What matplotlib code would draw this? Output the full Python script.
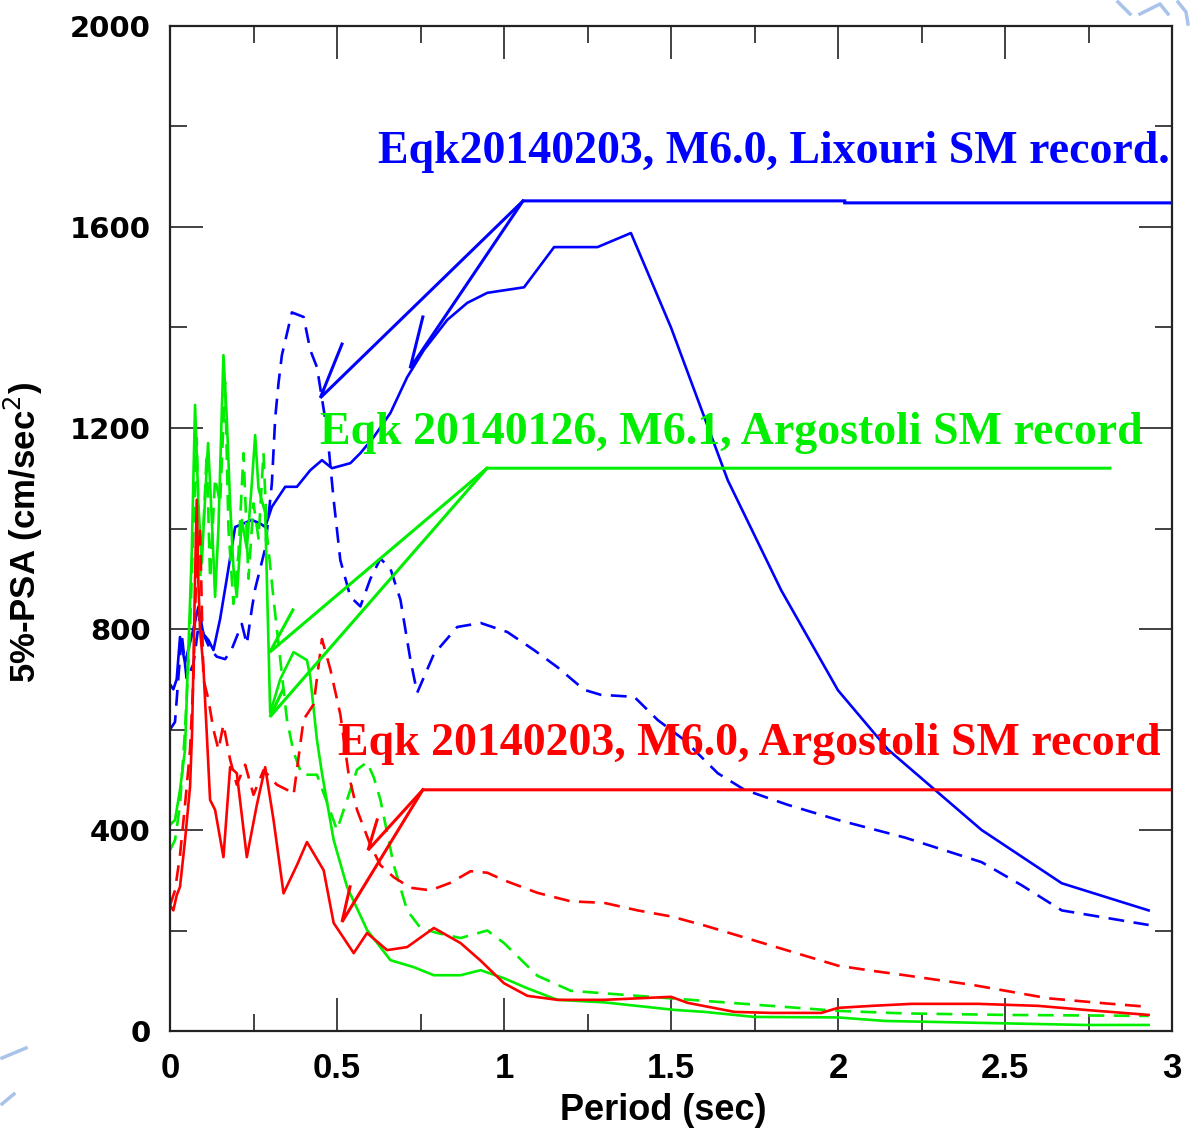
import matplotlib
matplotlib.use("Agg")
import matplotlib.pyplot as plt
from matplotlib.lines import Line2D

# Lixouri record, Eqk 20140203 (blue)
lix_T = [0, 0.01, 0.02, 0.03, 0.045, 0.055, 0.07, 0.085, 0.1, 0.115, 0.13, 0.15, 0.17, 0.195,
         0.22, 0.245, 0.27, 0.285, 0.305, 0.345, 0.38, 0.42, 0.455, 0.485, 0.54, 0.57, 0.61,
         0.66, 0.71, 0.76, 0.83, 0.89, 0.95, 1.01, 1.06, 1.15, 1.28, 1.38, 1.5, 1.67, 1.83,
         2.0, 2.15, 2.43, 2.67, 2.93]
lix_psa1 = [690, 680, 700, 784, 732, 760, 800, 844, 790, 778, 758, 820, 900, 1003,
            1010, 1017, 1010, 1003, 1043, 1083, 1083, 1116, 1136, 1120, 1130, 1150, 1182,
            1230, 1301, 1355, 1415, 1449, 1469, 1475, 1480, 1560, 1560, 1588, 1400, 1096, 877,
            678, 560, 400, 294, 240]
lix_T2 = [0, 0.015, 0.035, 0.05, 0.07, 0.09, 0.1, 0.12, 0.14, 0.165, 0.185, 0.215, 0.23, 0.245,
          0.255, 0.27, 0.285, 0.305, 0.315, 0.325, 0.335, 0.365, 0.40, 0.42, 0.44, 0.47, 0.49,
          0.51, 0.54, 0.57, 0.60, 0.63, 0.66, 0.69, 0.72, 0.74, 0.79, 0.86, 0.93, 1.01, 1.09,
          1.16, 1.24, 1.29, 1.39, 1.46, 1.54, 1.64, 1.72, 1.85, 2.0, 2.2, 2.43, 2.55, 2.67, 2.93]
lix_psa2 = [600, 615, 790, 700, 730, 830, 790, 760, 745, 740, 760, 810, 770, 840,
            880, 920, 960, 1090, 1220, 1290, 1345, 1430, 1421, 1355, 1321, 1196, 1057,
            937, 864, 845, 900, 940, 920, 858, 738, 673, 750, 804, 812, 794, 758,
            724, 679, 669, 665, 619, 579, 513, 480, 450, 420, 385, 336, 290, 240, 211]

# Argostoli record, Eqk 20140126 (green)
arg1_T = [0, 0.015, 0.03, 0.045, 0.055, 0.065, 0.075, 0.085, 0.095, 0.105, 0.114, 0.125, 0.135,
          0.145, 0.16, 0.17, 0.18, 0.19, 0.2, 0.215, 0.23, 0.245, 0.255, 0.265, 0.285, 0.30,
          0.33, 0.37, 0.41, 0.42, 0.44, 0.455, 0.49, 0.53, 0.59, 0.66, 0.73, 0.79, 0.87, 0.93,
          1.0, 1.07, 1.16, 1.3, 1.51, 1.6, 1.75, 2.0, 2.14, 2.44, 2.74, 2.93]
arg1_psa1 = [410, 420, 480, 560, 760, 950, 1246, 1050, 931, 1060, 1170, 1020, 864,
             1000, 1345, 1220, 1050, 920, 864, 1017, 960, 1090, 1186, 1080, 1031, 633,
             700, 754, 738, 704, 579, 513, 380, 287, 201, 141, 127, 111, 111, 121,
             105, 85, 62, 57, 42, 38, 28, 27, 20, 16, 12, 12]
arg1_T2 = [0, 0.015, 0.03, 0.045, 0.06, 0.07, 0.08, 0.09, 0.1, 0.11, 0.12, 0.135, 0.15, 0.165,
           0.175, 0.19, 0.205, 0.22, 0.235, 0.25, 0.265, 0.28, 0.29, 0.31, 0.33, 0.35, 0.37,
           0.395, 0.44, 0.50, 0.53, 0.56, 0.59, 0.61, 0.63, 0.67, 0.71, 0.75, 0.8, 0.87, 0.95,
           1.0, 1.1, 1.2, 1.4, 1.6, 1.8, 2.0, 2.2, 2.5, 2.93]
arg1_psa2 = [360, 380, 450, 600, 800, 1000, 1180, 900, 1000, 1150, 900, 1100, 1050, 1290,
             1000, 850, 950, 1150, 900, 1050, 980, 1150, 990, 860, 740, 620, 555,
             510, 510, 400, 460, 520, 535, 505, 460, 330, 240, 205, 195, 185, 200,
             175, 110, 80, 70, 60, 50, 40, 35, 32, 30]

# Argostoli record, Eqk 20140203 (red)
arg2_T = [0, 0.01, 0.02, 0.03, 0.045, 0.06, 0.066, 0.07, 0.075, 0.08, 0.085, 0.09, 0.1, 0.11,
          0.12, 0.135, 0.16, 0.18, 0.2, 0.23, 0.26, 0.285, 0.31, 0.34, 0.38, 0.41, 0.46, 0.49,
          0.55, 0.59, 0.65, 0.71, 0.79, 0.87, 0.93, 1.0, 1.07, 1.16, 1.3, 1.5, 1.55, 1.69, 1.8,
          1.95, 2.0, 2.1, 2.22, 2.42, 2.6, 2.74, 2.93]
arg2_psa1 = [250, 240, 270, 287, 380, 486, 593, 724, 900, 1057, 891, 798, 724, 593,
             460, 440, 346, 525, 513, 346, 450, 525, 420, 274, 330, 376, 320, 215,
             155, 195, 161, 167, 205, 175, 140, 95, 70, 62, 62, 68, 56, 38, 36,
             36, 46, 50, 54, 54, 50, 42, 32]
arg2_T2 = [0, 0.015, 0.03, 0.045, 0.06, 0.07, 0.08, 0.09, 0.1, 0.115, 0.13, 0.145, 0.16, 0.18,
           0.2, 0.225, 0.25, 0.28, 0.32, 0.35, 0.37, 0.40, 0.43, 0.455, 0.48, 0.51, 0.535, 0.56,
           0.60, 0.63, 0.67, 0.72, 0.78, 0.84, 0.9, 0.95, 1.0, 1.1, 1.2, 1.3, 1.4, 1.5, 1.6,
           1.7, 1.8, 1.9, 2.0, 2.1, 2.2, 2.4, 2.63, 2.8, 2.93]
arg2_psa2 = [250, 280, 350, 450, 560, 700, 950, 1000, 700, 660, 600, 560, 610, 540,
             490, 530, 470, 519, 490, 480, 470, 620, 650, 780, 720, 630, 510, 440,
             370, 330, 306, 285, 280, 295, 318, 315, 300, 275, 258, 255, 240, 228, 210,
             190, 170, 150, 130, 120, 111, 92, 65, 55, 48]

# design spectra (barb -> tip -> corner -> plateau)
lix_des_a_T = [0.515, 0.45, 1.057, 2.02, 2.02, 3.0]
lix_des_a_psa = [1367, 1260, 1652, 1652, 1648, 1648]
lix_des_b_T = [0.757, 0.719, 1.057]
lix_des_b_psa = [1421, 1319, 1652]
arg1_des_a_T = [0.368, 0.299, 0.949, 2.814]
arg1_des_a_psa = [838, 754, 1120, 1120]
arg1_des_b_T = [0.338, 0.299, 0.949]
arg1_des_b_psa = [679, 625, 1120]
arg2_des_a_T = [0.62, 0.593, 0.757, 3.0]
arg2_des_a_psa = [420, 360, 480, 480]
arg2_des_b_T = [0.539, 0.515, 0.757]
arg2_des_b_psa = [287, 217, 480]

BLUE = "#0000ff"
GREEN = "#00ee00"
RED = "#ff0000"
SANS = ["Liberation Sans", "DejaVu Sans"]

fig = plt.figure(figsize=(11.9, 11.28), dpi=100)
ax = fig.add_axes([170 / 1190, 1 - 1031 / 1128, (1172 - 170) / 1190, (1031 - 26) / 1128])

dash = (6, 3.6)
ax.plot(lix_T, lix_psa1, color=BLUE, lw=1.9)
ax.plot(lix_T2, lix_psa2, color=BLUE, lw=1.9, dashes=dash)
ax.plot(arg1_T, arg1_psa1, color=GREEN, lw=1.9)
ax.plot(arg1_T2, arg1_psa2, color=GREEN, lw=1.9, dashes=dash)
ax.plot(arg2_T, arg2_psa1, color=RED, lw=1.9)
ax.plot(arg2_T2, arg2_psa2, color=RED, lw=1.9, dashes=dash)

for T, v, c in [(lix_des_a_T, lix_des_a_psa, BLUE), (lix_des_b_T, lix_des_b_psa, BLUE),
                (arg1_des_a_T, arg1_des_a_psa, GREEN), (arg1_des_b_T, arg1_des_b_psa, GREEN),
                (arg2_des_a_T, arg2_des_a_psa, RED), (arg2_des_b_T, arg2_des_b_psa, RED)]:
    ax.plot(T, v, color=c, lw=2.2, solid_joinstyle="miter")

serif = ["Liberation Serif", "DejaVu Serif"]
ax.text(0.623, 1749, "Eqk20140203, M6.0, Lixouri SM record.", color=BLUE, family=serif,
        fontweight="bold", fontsize=33, va="center", ha="left", clip_on=False)
ax.text(0.449, 1190, "Eqk 20140126, M6.1, Argostoli SM record", color=GREEN, family=serif,
        fontweight="bold", fontsize=33, va="center", ha="left", clip_on=False)
ax.text(0.503, 571, "Eqk 20140203, M6.0, Argostoli SM record", color=RED, family=serif,
        fontweight="bold", fontsize=33, va="center", ha="left", clip_on=False)

ax.set_xlim(0, 3)
ax.set_ylim(0, 2000)
ax.set_xticks([0, 0.5, 1, 1.5, 2, 2.5, 3])
ax.set_xticklabels(["0", "0.5", "1", "1.5", "2", "2.5", "3"])
ax.set_xticks([0.25, 0.75, 1.25, 1.75, 2.25, 2.75], minor=True)
ax.set_yticks([0, 400, 800, 1200, 1600, 2000])
ax.set_yticks([200, 600, 1000, 1400, 1800], minor=True)
ax.tick_params(which="both", direction="in", top=True, right=True, width=1.2, color="#222222")
ax.tick_params(which="major", length=24)
ax.tick_params(which="minor", length=12)
ax.tick_params(axis="y", which="major", pad=14)
ax.tick_params(axis="x", which="major", pad=15)
for lab in ax.get_yticklabels():
    lab.set_fontsize(21)
    lab.set_fontweight("bold")
    lab.set_family("DejaVu Sans")
for lab in ax.get_xticklabels():
    lab.set_fontsize(25)
    lab.set_fontweight("bold")
    lab.set_family(SANS)
for s in ax.spines.values():
    s.set_linewidth(1.6)
    s.set_color("#222222")

ax.set_xlabel("Period (sec)", family=SANS, fontweight="bold", fontsize=26)
ax.xaxis.set_label_coords(0.492, -0.062)
ax.set_ylabel("5%-PSA (cm/sec$^2$)", family=SANS, fontweight="bold", fontsize=25)
ax.yaxis.set_label_coords(-0.125, 0.496)

# page border decorations in the corners
deco = "#a9c3ea"
for xs, ys in [([1118, 1130], [2, 14]), ([1140, 1160, 1168], [14, 4, 14]),
               ([1178, 1186, 1188], [2, 12, 24]), ([2, 26], [1058, 1048]),
               ([2, 14], [1104, 1094])]:
    fig.add_artist(Line2D([x / 1190 for x in xs], [1 - y / 1128 for y in ys],
                          color=deco, lw=2.5))

fig.savefig("out.png", dpi=100)
